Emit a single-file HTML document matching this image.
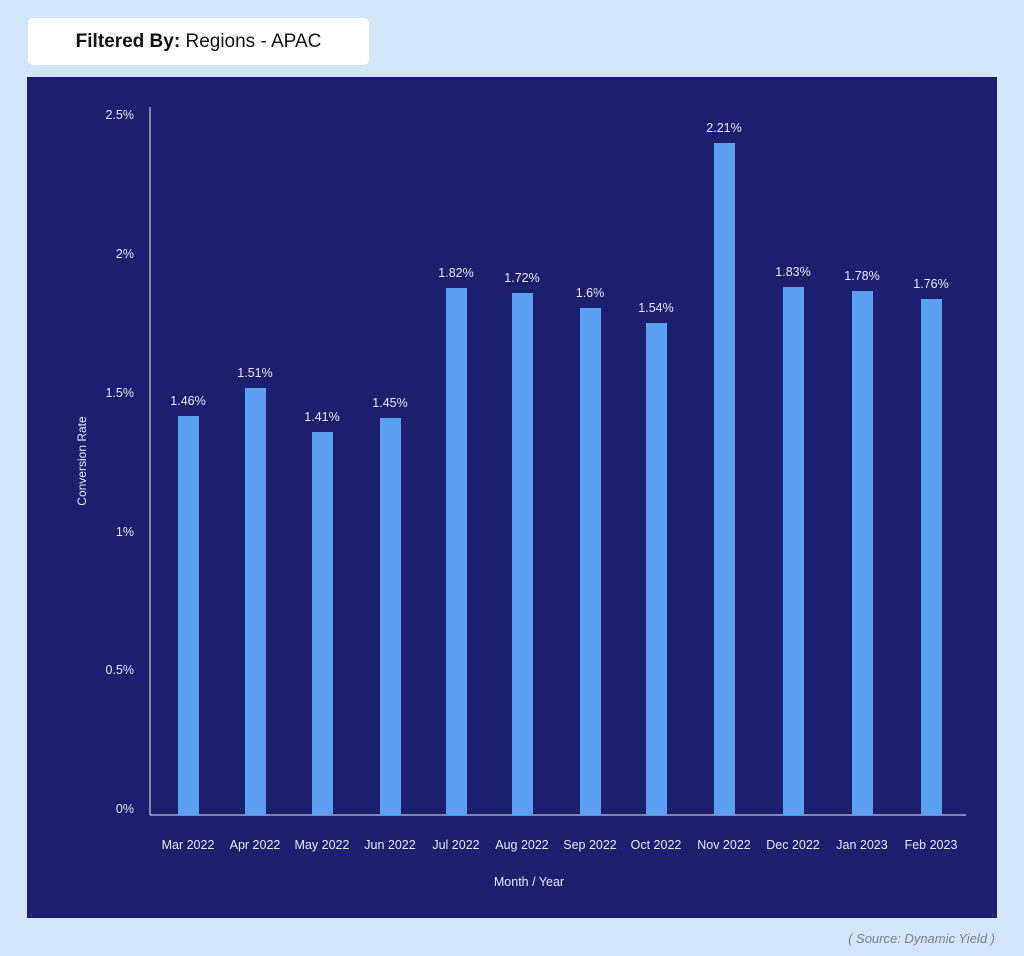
<!DOCTYPE html>
<html><head><style>
body{margin:0;width:1024px;height:956px;background:#d3e5fb;position:relative;overflow:hidden;font-family:"Liberation Sans",sans-serif}
.hdr{position:absolute;left:28px;top:18px;width:341px;height:47px;background:#fff;border-radius:5px;font-size:19px;line-height:47px;text-align:center;color:#111}
</style></head><body>
<div class="hdr"><b>Filtered By:</b> Regions - APAC</div>
<svg width="1024" height="956" style="position:absolute;left:0;top:0">
<rect x="27" y="77" width="970" height="841" fill="#1b1f6d"/>
<g font-size="12.5" fill="#e6e8f5" text-anchor="end">
<text x="134" y="119">2.5%</text><text x="134" y="258">2%</text><text x="134" y="397">1.5%</text><text x="134" y="536">1%</text><text x="134" y="674">0.5%</text><text x="134" y="813">0%</text>
</g>
<line x1="150" y1="107" x2="150" y2="815" stroke="#e6e8f5" stroke-width="1"/>
<line x1="150" y1="815" x2="966" y2="815" stroke="#e6e8f5" stroke-width="1"/>
<text x="86" y="461" font-size="12" fill="#e6e8f5" text-anchor="middle" transform="rotate(-90 86 461)">Conversion Rate</text>
<text x="529" y="886" font-size="12.5" fill="#e6e8f5" text-anchor="middle">Month / Year</text>
<g fill="#5b9ff0">
<rect x="178" y="416" width="21" height="399"/>
<rect x="245" y="388" width="21" height="427"/>
<rect x="312" y="432" width="21" height="383"/>
<rect x="380" y="418" width="21" height="397"/>
<rect x="446" y="288" width="21" height="527"/>
<rect x="512" y="293" width="21" height="522"/>
<rect x="580" y="308" width="21" height="507"/>
<rect x="646" y="323" width="21" height="492"/>
<rect x="714" y="143" width="21" height="672"/>
<rect x="783" y="287" width="21" height="528"/>
<rect x="852" y="291" width="21" height="524"/>
<rect x="921" y="299" width="21" height="516"/>
</g>
<g font-size="12.5" fill="#e6e8f5" text-anchor="middle">
<text x="188" y="405">1.46%</text><text x="255" y="377">1.51%</text><text x="322" y="421">1.41%</text><text x="390" y="407">1.45%</text>
<text x="456" y="277">1.82%</text><text x="522" y="282">1.72%</text><text x="590" y="297">1.6%</text><text x="656" y="312">1.54%</text>
<text x="724" y="132">2.21%</text><text x="793" y="276">1.83%</text><text x="862" y="280">1.78%</text><text x="931" y="288">1.76%</text>
<text x="188" y="849">Mar 2022</text><text x="255" y="849">Apr 2022</text><text x="322" y="849">May 2022</text><text x="390" y="849">Jun 2022</text>
<text x="456" y="849">Jul 2022</text><text x="522" y="849">Aug 2022</text><text x="590" y="849">Sep 2022</text><text x="656" y="849">Oct 2022</text>
<text x="724" y="849">Nov 2022</text><text x="793" y="849">Dec 2022</text><text x="862" y="849">Jan 2023</text><text x="931" y="849">Feb 2023</text>
</g>
<text x="995" y="943" font-size="13" font-style="italic" fill="#7a8090" text-anchor="end">( Source: Dynamic Yield )</text>
</svg>
</body></html>
